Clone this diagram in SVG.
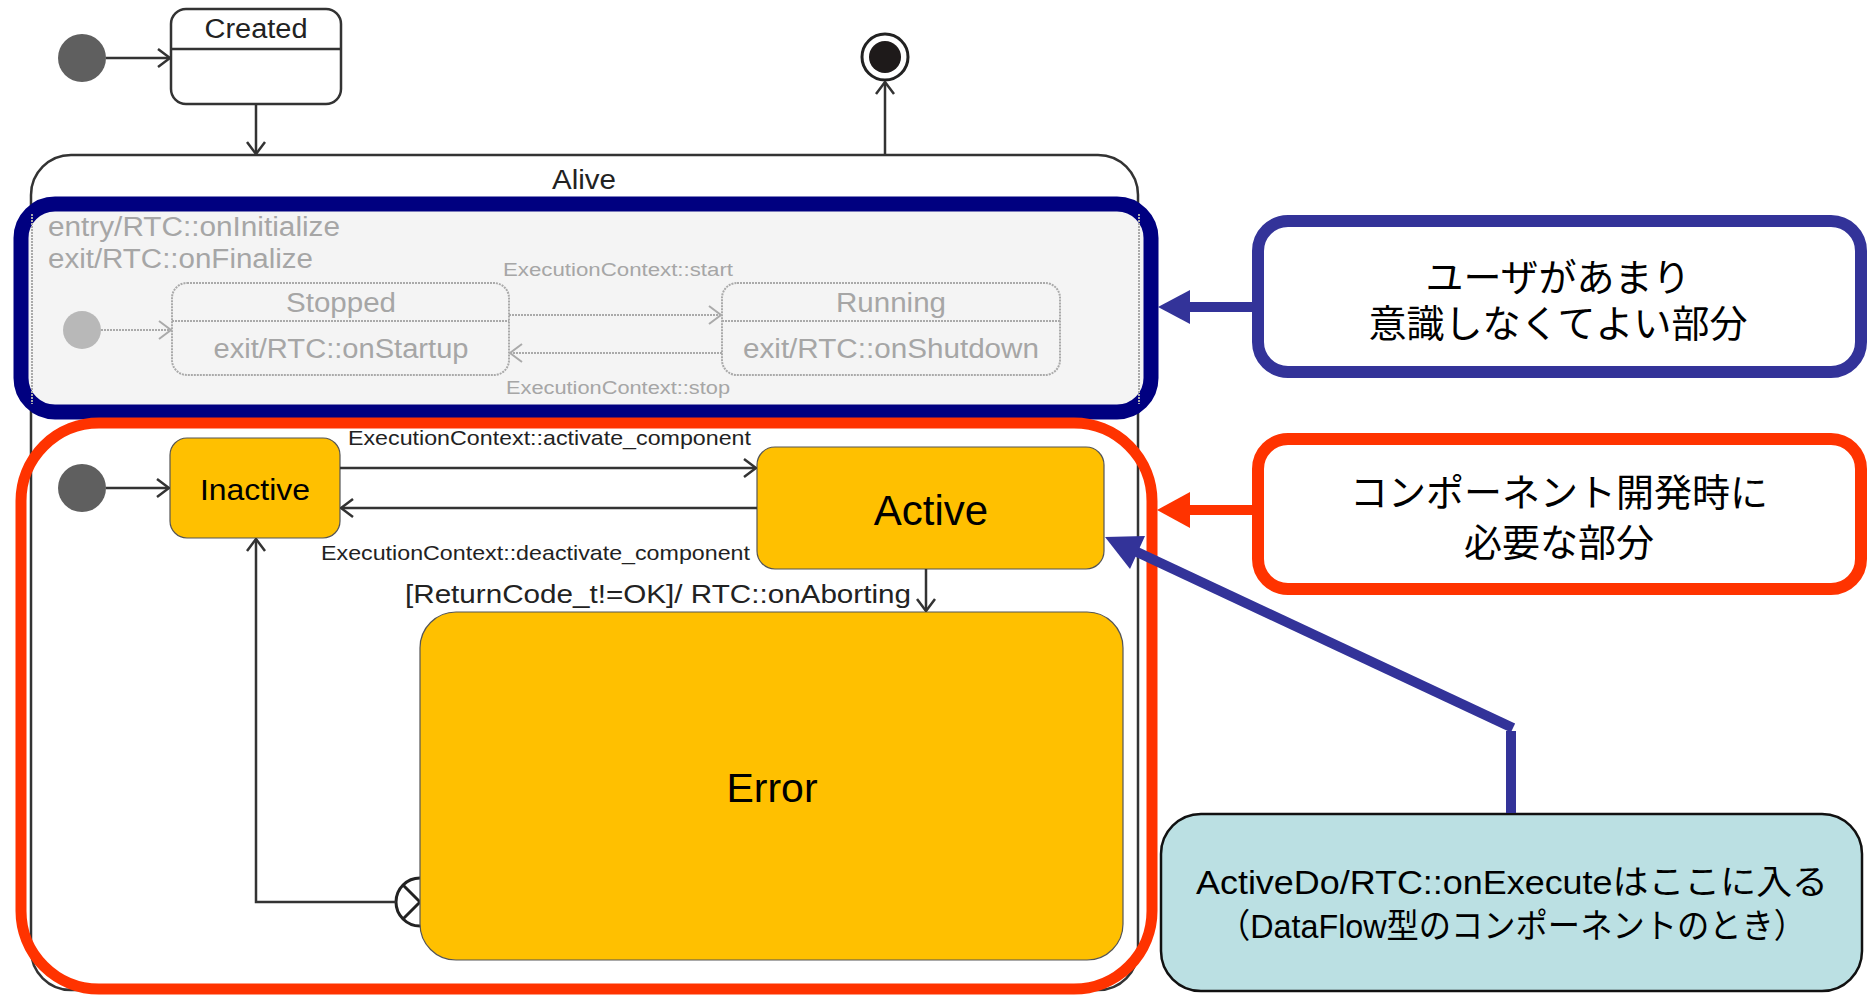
<svg xmlns="http://www.w3.org/2000/svg" width="1869" height="995" viewBox="0 0 1869 995">
<defs>
<style>
.t{font-family:"Liberation Sans",Arial,"Noto Sans CJK JP",sans-serif;fill:#222}
.g{font-family:"Liberation Sans",Arial,sans-serif;fill:#a6a6a6}
.j{font-family:"Liberation Sans","Noto Sans CJK JP",sans-serif;fill:#000}
.st{fill:#fff;stroke:#333;stroke-width:2.5}
.ln{fill:none;stroke:#333;stroke-width:2.5}
.gl{fill:none;stroke:#aaa;stroke-width:2;stroke-dasharray:2 1}
.yel{fill:#ffc000;stroke:#555;stroke-width:1.2}
</style>
<marker id="a" viewBox="0 0 14 20" refX="13" refY="10" markerWidth="14" markerHeight="20" markerUnits="userSpaceOnUse" orient="auto"><path d="M1,1 L13,10 L1,19" fill="none" stroke="#333" stroke-width="2.5"/></marker>
<marker id="ag" viewBox="0 0 14 20" refX="13" refY="10" markerWidth="14" markerHeight="20" markerUnits="userSpaceOnUse" orient="auto"><path d="M1,1 L13,10 L1,19" fill="none" stroke="#aaa" stroke-width="2"/></marker>
</defs>
<rect width="1869" height="995" fill="#fff"/>

<g id="alive">
<rect x="31" y="155" width="1107" height="835" rx="40" class="st"/>
<text class="t" x="584" y="189" font-size="27" text-anchor="middle" textLength="64" lengthAdjust="spacingAndGlyphs">Alive</text>
</g>

<g id="init-top"><circle cx="82" cy="58" r="24" fill="#5f5f5f"/></g>
<g id="created">
<rect x="171" y="9" width="170" height="95" rx="15" class="st"/>
<line x1="171" y1="49" x2="341" y2="49" class="ln"/>
<text class="t" x="256" y="38" font-size="27" text-anchor="middle" textLength="103" lengthAdjust="spacingAndGlyphs">Created</text>
</g>
<g id="final">
<circle cx="885" cy="57" r="23" fill="#fff" stroke="#222" stroke-width="3"/>
<circle cx="885" cy="57" r="16" fill="#1e1a1a"/>
</g>

<g id="lifecycle-panel">
<rect x="21" y="204" width="1130" height="208" rx="34" fill="#f4f4f4" stroke="#000080" stroke-width="15"/>
<line x1="32" y1="214" x2="32" y2="404" stroke="#aaa" stroke-width="2" stroke-dasharray="2 1"/>
<line x1="1139" y1="214" x2="1139" y2="404" stroke="#aaa" stroke-width="2" stroke-dasharray="2 1"/>
<text class="g" x="48" y="236" font-size="27" textLength="292" lengthAdjust="spacingAndGlyphs">entry/RTC::onInitialize</text>
<text class="g" x="48" y="268" font-size="27" textLength="265" lengthAdjust="spacingAndGlyphs">exit/RTC::onFinalize</text>
</g>
<g id="init-panel"><circle cx="82" cy="330" r="19" fill="#b8b8b8"/></g>
<g id="stopped">
<rect x="172" y="283" width="337" height="92" rx="15" class="gl"/>
<line x1="172" y1="321" x2="509" y2="321" class="gl"/>
<text class="g" x="341" y="312" font-size="27" text-anchor="middle" textLength="110" lengthAdjust="spacingAndGlyphs">Stopped</text>
<text class="g" x="341" y="358" font-size="27" text-anchor="middle" textLength="255" lengthAdjust="spacingAndGlyphs">exit/RTC::onStartup</text>
</g>
<g id="running">
<rect x="722" y="283" width="338" height="92" rx="15" class="gl"/>
<line x1="722" y1="321" x2="1060" y2="321" class="gl"/>
<text class="g" x="891" y="312" font-size="27" text-anchor="middle" textLength="110" lengthAdjust="spacingAndGlyphs">Running</text>
<text class="g" x="891" y="358" font-size="27" text-anchor="middle" textLength="296" lengthAdjust="spacingAndGlyphs">exit/RTC::onShutdown</text>
</g>

<g id="init-inner"><circle cx="82" cy="488" r="24" fill="#5f5f5f"/></g>
<g id="inactive">
<rect x="170" y="438" width="170" height="100" rx="17" class="yel"/>
<text class="t" x="255" y="500" font-size="29" text-anchor="middle" fill="#000" style="fill:#000" textLength="110" lengthAdjust="spacingAndGlyphs">Inactive</text>
</g>
<g id="active">
<rect x="757" y="447" width="347" height="122" rx="18" class="yel"/>
<text class="t" x="931" y="525" font-size="42" text-anchor="middle" style="fill:#000">Active</text>
</g>
<g id="exit-point">
<circle cx="420" cy="902" r="24" fill="#fff" stroke="#222" stroke-width="3"/>
<path d="M403,885 L437,919 M403,919 L437,885" stroke="#222" stroke-width="3"/>
</g>
<g id="error">
<rect x="420" y="612" width="703" height="348" rx="36" class="yel"/>
<text class="t" x="772" y="802" font-size="41" text-anchor="middle" style="fill:#000">Error</text>
</g>

<g id="development-frame">
<rect x="21" y="423" width="1131" height="566" rx="78" fill="none" stroke="#ff3300" stroke-width="11"/>
</g>

<g id="note-user">
<rect x="1258" y="221" width="603" height="151" rx="30" fill="#fff" stroke="#333399" stroke-width="12"/>
<text class="j" x="1558" y="291" font-size="38" text-anchor="middle">ユーザがあまり</text>
<text class="j" x="1558" y="337" font-size="38" text-anchor="middle">意識しなくてよい部分</text>
</g>
<g id="note-dev">
<rect x="1258" y="439" width="603" height="150" rx="30" fill="#fff" stroke="#ff3300" stroke-width="12"/>
<text class="j" x="1559" y="506" font-size="38" text-anchor="middle">コンポーネント開発時に</text>
<text class="j" x="1559" y="556" font-size="38" text-anchor="middle">必要な部分</text>
</g>
<g id="note-exec">
<rect x="1161" y="814" width="701" height="177" rx="40" fill="#bbe0e3" stroke="#111" stroke-width="2.5"/>
<text class="j" x="1512" y="894" font-size="34" text-anchor="middle" textLength="632" lengthAdjust="spacingAndGlyphs">ActiveDo/RTC::onExecuteはここに入る</text>
<text class="j" x="1512" y="938" font-size="34" text-anchor="middle" textLength="588" lengthAdjust="spacingAndGlyphs">（DataFlow型のコンポーネントのとき）</text>
</g>

<g id="connectors">
<line x1="106" y1="58" x2="170" y2="58" class="ln" marker-end="url(#a)"/>
<line x1="256" y1="104" x2="256" y2="154" class="ln" marker-end="url(#a)"/>
<line x1="885" y1="155" x2="885" y2="82" class="ln" marker-end="url(#a)"/>
<line x1="101" y1="330" x2="171" y2="330" stroke="#aaa" stroke-width="2" stroke-dasharray="2 1" marker-end="url(#ag)"/>
<line x1="509" y1="315" x2="721" y2="315" stroke="#aaa" stroke-width="2" stroke-dasharray="2 1" marker-end="url(#ag)"/>
<line x1="722" y1="353" x2="510" y2="353" stroke="#aaa" stroke-width="2" stroke-dasharray="2 1" marker-end="url(#ag)"/>
<text class="g" x="618" y="276" font-size="18" text-anchor="middle" textLength="230" lengthAdjust="spacingAndGlyphs">ExecutionContext::start</text>
<text class="g" x="618" y="394" font-size="18" text-anchor="middle" textLength="224" lengthAdjust="spacingAndGlyphs">ExecutionContext::stop</text>
<line x1="106" y1="488" x2="169" y2="488" class="ln" marker-end="url(#a)"/>
<line x1="340" y1="468" x2="756" y2="468" class="ln" marker-end="url(#a)"/>
<line x1="757" y1="508" x2="341" y2="508" class="ln" marker-end="url(#a)"/>
<text class="t" x="348" y="445" font-size="21" textLength="403" lengthAdjust="spacingAndGlyphs">ExecutionContext::activate_component</text>
<text class="t" x="321" y="560" font-size="21" textLength="429" lengthAdjust="spacingAndGlyphs">ExecutionContext::deactivate_component</text>
<line x1="926" y1="569" x2="926" y2="611" class="ln" marker-end="url(#a)"/>
<text class="t" x="405" y="603" font-size="26" textLength="506" lengthAdjust="spacingAndGlyphs">[ReturnCode_t!=OK]/ RTC::onAborting</text>
<path d="M396,902 H256 V539" class="ln" marker-end="url(#a)"/>
<line x1="1252" y1="307" x2="1188" y2="307" stroke="#333399" stroke-width="10"/>
<polygon points="1158,307 1190,290 1190,324" fill="#333399"/>
<line x1="1252" y1="510" x2="1188" y2="510" stroke="#ff3300" stroke-width="10"/>
<polygon points="1157,510 1190,492 1190,528" fill="#ff3300"/>
<line x1="1511" y1="813" x2="1511" y2="731" stroke="#333399" stroke-width="10"/>
<line x1="1513" y1="728" x2="1137" y2="552" stroke="#333399" stroke-width="10"/>
<polygon points="1105,537 1145,536 1130,569" fill="#333399"/>
</g>
</svg>
